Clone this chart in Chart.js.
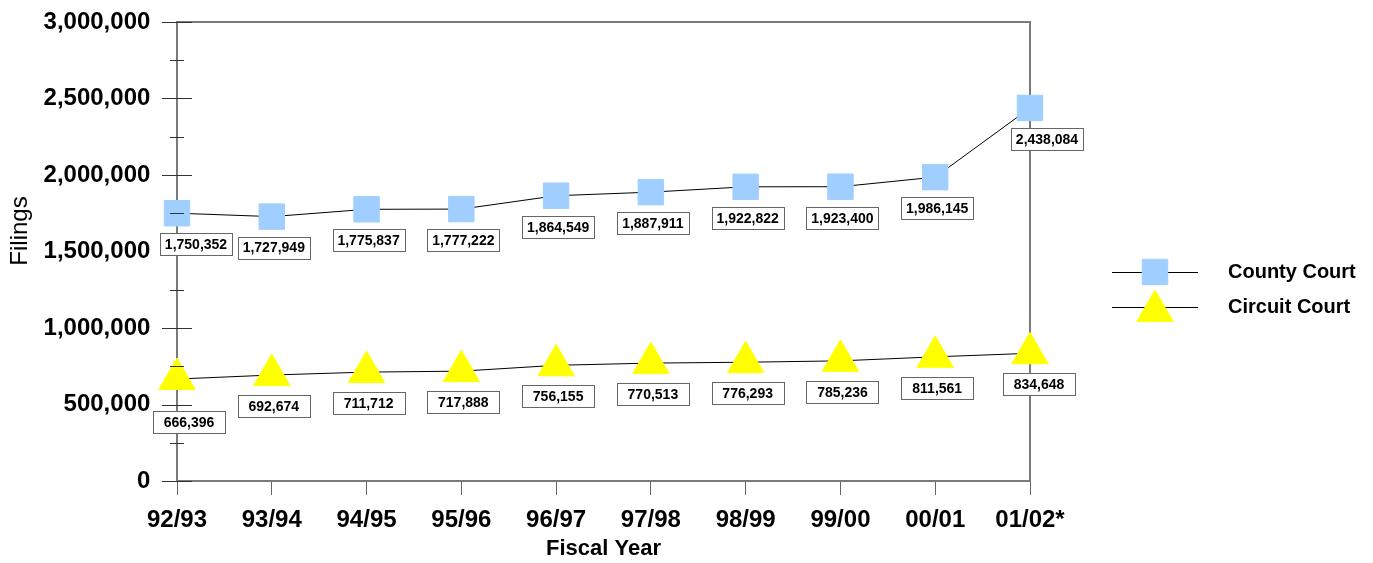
<!DOCTYPE html>
<html>
<head>
<meta charset="utf-8">
<script src="https://cdn.jsdelivr.net/npm/chart.js@4/dist/chart.umd.min.js"></script>
<style>
  html, body { margin: 0; padding: 0; background: #fff; }
  #wrap { width: 1373px; height: 563px; position: relative; }
</style>
</head>
<body>
<div id="wrap"><canvas id="c" width="1373" height="563"></canvas></div>
<script>
// ---- Data ----
const categories = ['92/93','93/94','94/95','95/96','96/97','97/98','98/99','99/00','00/01','01/02*'];
const countyCourt = [1750352, 1727949, 1775837, 1777222, 1864549, 1887911, 1922822, 1923400, 1986145, 2438084];
const circuitCourt = [666396, 692674, 711712, 717888, 756155, 770513, 776293, 785236, 811561, 834648];
const seriesNames = ['County Court', 'Circuit Court'];
const yAxisTitle = 'Filings';
const xAxisTitle = 'Fiscal Year';
const yMajorTicks = [0, 500000, 1000000, 1500000, 2000000, 2500000, 3000000];
const yMinorTicks = [250000, 750000, 1250000, 1750000, 2250000, 2750000];

// ---- Styles ----
const FONT = "'Liberation Sans', Arial, sans-serif";
const countyStyle = { pointStyle: 'rect', radius: 18, color: '#A0CFFF' };
const circuitStyle = { pointStyle: 'triangle', radius: 21, color: '#FFFF00' };
// label nudges (dx, dy) by dataset and index, styling only
const labelNudge = [
  { 0: [17, 0], 9: [15, 0] },
  { 0: [10, 12], 9: [7, 0] }
];
const fmt = v => v.toLocaleString('en-US');

const framePlugin = {
  id: 'frame',
  beforeDatasetsDraw(chart) {
    const { ctx, chartArea: a } = chart;
    ctx.save();
    ctx.strokeStyle = '#7a7a7a';
    ctx.lineWidth = 2;
    ctx.strokeRect(a.left, a.top, a.right - a.left, a.bottom - a.top);
    // y axis title
    ctx.translate(20, 231);
    ctx.rotate(-Math.PI / 2);
    ctx.fillStyle = '#000';
    ctx.font = "24px " + FONT;
    ctx.textAlign = 'center';
    ctx.textBaseline = 'middle';
    ctx.fillText(yAxisTitle, 0, 0);
    ctx.restore();
  },
  afterDatasetsDraw(chart) {
    const { ctx, chartArea: a, scales } = chart;
    const y = scales.y;
    ctx.save();
    ctx.strokeStyle = '#333';
    ctx.lineWidth = 1;
    yMajorTicks.forEach(v => {
      const py = Math.round(y.getPixelForValue(v)) + 0.5;
      ctx.beginPath(); ctx.moveTo(a.left - 15, py); ctx.lineTo(a.left + 15, py); ctx.stroke();
    });
    yMinorTicks.forEach(v => {
      const py = Math.round(y.getPixelForValue(v)) + 0.5;
      ctx.beginPath(); ctx.moveTo(a.left - 7, py); ctx.lineTo(a.left + 7, py); ctx.stroke();
    });
    // data label boxes
    ctx.font = "bold 14px " + FONT;
    ctx.textAlign = 'center';
    ctx.textBaseline = 'middle';
    chart.data.datasets.forEach((ds, di) => {
      const meta = chart.getDatasetMeta(di);
      meta.data.forEach((pt, i) => {
        const n = (labelNudge[di] && labelNudge[di][i]) || [0, 0];
        const cx = pt.x + 2 + n[0];
        const cy = pt.y + 31 + n[1];
        const w = 72, h = 22;
        ctx.fillStyle = '#fff';
        ctx.fillRect(cx - w / 2, cy - h / 2, w, h);
        ctx.strokeStyle = '#666';
        ctx.lineWidth = 1;
        ctx.strokeRect(Math.round(cx - w / 2) + 0.5, Math.round(cy - h / 2) + 0.5, w, h);
        ctx.fillStyle = '#000';
        ctx.fillText(fmt(ds.data[i]), cx, cy + 1);
      });
    });
    ctx.restore();
  },
  afterDraw(chart) {
    const { ctx, chartArea: a } = chart;
    const styles = [countyStyle, circuitStyle];
    const rows = [272, 307];
    ctx.save();
    styles.forEach((s, i) => {
      const yy = rows[i];
      ctx.strokeStyle = '#000';
      ctx.lineWidth = 1;
      ctx.beginPath(); ctx.moveTo(a.right + 82, yy + 0.5); ctx.lineTo(a.right + 168, yy + 0.5); ctx.stroke();
    });
    styles.forEach((s, i) => {
      const yy = rows[i] + (i === 1 ? 4 : 0);
      ctx.fillStyle = s.color;
      ctx.strokeStyle = s.color;
      ctx.lineWidth = 1;
      Chart.helpers.drawPoint(ctx, { pointStyle: s.pointStyle, radius: s.radius, borderWidth: 1, rotation: 0 }, a.right + 125, yy);
    });
    ctx.fillStyle = '#000';
    ctx.font = "bold 20px " + FONT;
    ctx.textAlign = 'left';
    ctx.textBaseline = 'middle';
    seriesNames.forEach((name, i) => ctx.fillText(name, a.right + 198, rows[i]));
    ctx.restore();
  }
};

new Chart(document.getElementById('c'), {
  type: 'line',
  data: {
    labels: categories,
    datasets: [
      {
        label: seriesNames[0], data: countyCourt,
        borderColor: '#000', borderWidth: 1, tension: 0, clip: false,
        pointStyle: countyStyle.pointStyle, pointRadius: countyStyle.radius,
        pointBackgroundColor: countyStyle.color, pointBorderColor: countyStyle.color, pointBorderWidth: 1,
        pointHoverRadius: countyStyle.radius
      },
      {
        label: seriesNames[1], data: circuitCourt,
        borderColor: '#000', borderWidth: 1, tension: 0, clip: false,
        pointStyle: circuitStyle.pointStyle, pointRadius: circuitStyle.radius,
        pointBackgroundColor: circuitStyle.color, pointBorderColor: circuitStyle.color, pointBorderWidth: 1,
        pointHoverRadius: circuitStyle.radius
      }
    ]
  },
  options: {
    responsive: false,
    animation: false,
    events: [],
    layout: { padding: { top: 17, right: 343, left: 0, bottom: 0 } },
    plugins: { legend: { display: false }, tooltip: { enabled: false } },
    scales: {
      x: {
        type: 'category',
        offset: false,
        afterFit(scale) { scale.height = 82; },
        grid: { drawOnChartArea: false, drawTicks: true, tickLength: 14, color: '#666', lineWidth: 1 },
        border: { display: false },
        ticks: { color: '#000', font: { family: FONT, size: 24, weight: 'bold' }, padding: 11, maxRotation: 0, autoSkip: false },
        title: { display: true, text: xAxisTitle, color: '#000', font: { family: FONT, size: 22, weight: 'bold' }, padding: { top: 0, bottom: 1 } }
      },
      y: {
        min: 0, max: 3000000,
        afterFit(scale) { scale.width = 177; scale.paddingTop = 0; scale.paddingBottom = 0; },
        grid: { display: false, drawTicks: false },
        border: { display: false },
        ticks: {
          stepSize: 500000, padding: 0, color: '#000',
          font: { family: FONT, size: 24, weight: 'bold', lineHeight: 1.2 },
          callback: v => fmt(v) + '    '
        },
        title: { display: false }
      }
    }
  },
  plugins: [framePlugin]
});
</script>
</body>
</html>
